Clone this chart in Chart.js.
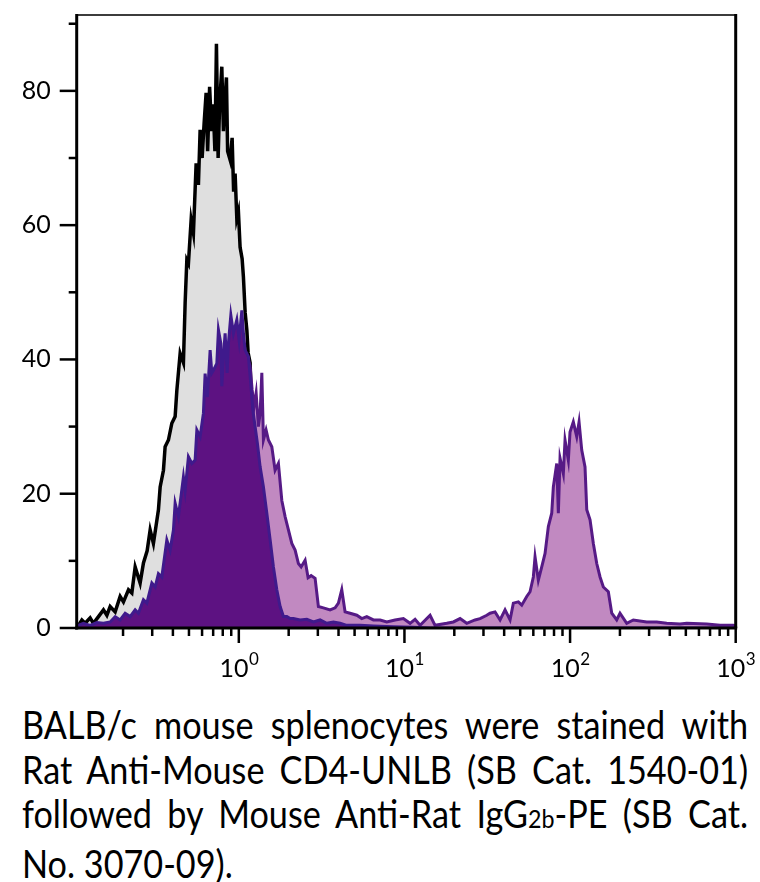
<!DOCTYPE html>
<html>
<head>
<meta charset="utf-8">
<script src="https://cdn.jsdelivr.net/npm/chart.js@4/dist/chart.umd.min.js"></script>
<style>
  html, body { margin: 0; padding: 0; background: #ffffff; }
  #wrap { position: relative; width: 760px; height: 882px; overflow: hidden; background: #fff; }
  #chart { position: absolute; left: 0; top: 0; }
  #caption {
    position: absolute; left: 22px; top: 702px; width: 806.7px;
    transform: scaleX(0.9); transform-origin: 0 0;
    font-family: Lato, 'Liberation Sans', sans-serif;
    font-size: 38px; line-height: 44.5px; color: #000;
  }
  #caption .j { text-align: justify; text-align-last: justify; white-space: nowrap; }
  #caption .sub { font-size: 0.68em; }
</style>
</head>
<body>
<div id="wrap">
  <canvas id="chart" width="760" height="690"></canvas>
  <div id="caption">
    <div class="j">BALB/c mouse splenocytes were stained with</div>
    <div class="j">Rat Anti-Mouse CD4-UNLB (SB Cat. 1540-01)</div>
    <div class="j">followed by Mouse Anti-Rat IgG<span class="sub">2b</span>-PE (SB Cat.</div>
    <div>No. 3070-09).</div>
  </div>
</div>
<script>
const FONT_FAMILY = "Lato, 'Liberation Sans', sans-serif";

// Control histogram (grey fill, black outline): fluorescence intensity and event counts
const controlX = [
  0.1057, 0.1076, 0.1128, 0.1181, 0.1266, 0.1325, 0.1421, 0.1523, 0.1597, 0.1672,
  0.1792, 0.1921, 0.2011, 0.2156, 0.2260, 0.2367, 0.2536, 0.2656, 0.2796, 0.2915,
  0.3051, 0.3271, 0.3350, 0.3507, 0.3590, 0.3759, 0.3941, 0.4126, 0.4225, 0.4423,
  0.4630, 0.4741, 0.4854, 0.4963, 0.5154, 0.5321, 0.5525, 0.5703, 0.5840, 0.6005,
  0.6173, 0.6347, 0.6482, 0.6663, 0.6852, 0.6997, 0.7173, 0.7326, 0.7501, 0.7658,
  0.7895, 0.8073, 0.8266, 0.8418, 0.8559, 0.8862, 0.9112, 0.9302, 0.9499, 0.9725,
  0.9945, 1.018, 1.047, 1.066, 1.092, 1.118, 1.138, 1.170, 1.203, 1.254,
  1.308, 1.382, 1.461, 1.546, 1.656, 1.826, 2.187, 3.095, 5.397, 12.43,
  990
];
const controlY = [
  0.2, 0.4, 1.2, 0.7, 1.5, 0.7, 1.7, 2.7, 1.9, 3.2,
  2.4, 4.7, 3.9, 5.7, 5.2, 9.1, 6.7, 9.7, 11.5, 14.6,
  12.6, 17.6, 21, 23.5, 27, 28, 30.5, 31.5, 35.4, 40.9,
  39.5, 48.4, 54.8, 54.3, 60.8, 58.8, 69.2, 66, 74.2, 70,
  75.2, 79.7, 71, 80.6, 74, 78, 71, 87, 70, 78,
  83.6, 74, 79, 82, 71, 69.7, 73, 65, 67.7, 61,
  62, 56.7, 55, 52.3, 47, 44.4, 41, 39.5, 30, 24,
  18, 12, 7, 4, 2, 0.8, 0.4, 0.2, 0.1, 0,
  0
];

// Stained histogram (light purple fill, purple outline)
const stainedX = [
  0.1052, 0.1266, 0.1523, 0.1792, 0.2059, 0.2367, 0.2656, 0.2985, 0.3429, 0.3848,
  0.4319, 0.4741, 0.5203, 0.5840, 0.6259, 0.6711, 0.7192, 0.7710, 0.8266, 0.8862,
  0.9725, 1.043, 1.092, 1.122, 1.170, 1.203, 1.237, 1.272, 1.313, 1.345,
  1.377, 1.408, 1.461, 1.509, 1.582, 1.656, 1.734, 1.818, 1.903, 1.993,
  2.089, 2.187, 2.290, 2.378, 2.513, 2.620, 2.732, 2.888, 3.023, 3.241,
  3.556, 3.814, 3.993, 4.184, 4.381, 4.697, 5.158, 5.526, 5.924, 6.494,
  7.128, 7.823, 8.778, 9.852, 10.81, 11.59, 12.43, 14.28, 15.30, 18.01,
  19.74, 21.67, 23.78, 26.69, 28.61, 31.41, 32.88, 35.24, 37.78, 40.50,
  43.41, 45.45, 48.73, 51.08, 54.75, 57.32, 60.01, 61.45, 64.33, 67.44,
  70.62, 73.93, 77.50, 79.25, 83.08, 84.96, 86.98, 91.06, 93.24, 97.61,
  99.93, 104.6, 109.7, 113.3, 117.6, 123.1, 126.1, 132.0, 138.2, 144.9,
  151.7, 158.8, 170.2, 178.5, 191.2, 200.2, 219.8, 240.9, 290.2, 333.6,
  383.2, 461.0, 506.0, 668.3, 803.8, 967.2, 1000
];
const stainedY = [
  0.2, 0.3, 0.4, 0.8, 1.2, 1.8, 2.8, 4.5, 6.5, 9.5,
  13.5, 18, 21, 25, 30, 34, 36, 38, 39, 42,
  42, 44, 40, 40.5, 39, 35.5, 33, 35, 30, 32,
  38, 28, 29.5, 28, 27, 23.5, 24.5, 19, 16.6, 14.6,
  12.6, 11.6, 9.6, 9.1, 10.1, 7.5, 7.8, 7.4, 3.2, 3.0,
  2.7, 3.0, 3.7, 5.7, 2.4, 2.2, 1.9, 1.4, 1.7, 1.2,
  1.2, 0.9, 1.2, 1.4, 0.7, 1.3, 0.4, 1.9, 0.4, 0.7,
  0.9, 1.4, 0.7, 1.2, 1.4, 1.9, 2.2, 2.4, 1.2, 2.7,
  1.2, 3.7, 3.9, 3.4, 4.7, 5.4, 7.6, 10.6, 7.1, 9.1,
  11.1, 15.1, 17.1, 21, 24.5, 17.1, 25.3, 23, 28, 25,
  29.2, 30.7, 28.5, 30.7, 26.5, 24, 17.6, 16.1, 12.6, 9.6,
  7.6, 6.1, 5.4, 2.2, 1.2, 2.2, 0.7, 1.2, 0.9, 0.9,
  0.7, 0.6, 0.7, 0.6, 0.4, 0.4, 0.3
];

// Second histogram (dark purple fill, indigo outline)
const darkX = [
  0.1052, 0.1153, 0.1266, 0.1390, 0.1523, 0.1672, 0.1792, 0.1921, 0.2059, 0.2207,
  0.2367, 0.2477, 0.2656, 0.2784, 0.2985, 0.3125, 0.3271, 0.3429, 0.3676, 0.3848,
  0.4029, 0.4126, 0.4319, 0.4630, 0.4741, 0.4963, 0.5203, 0.5447, 0.5579, 0.5840,
  0.6113, 0.6259, 0.6464, 0.6711, 0.6871, 0.7026, 0.7192, 0.7365, 0.7532, 0.7787,
  0.7895, 0.8073, 0.8266, 0.8499, 0.8653, 0.8949, 0.9277, 0.9725, 1.004, 1.043,
  1.066, 1.092, 1.143, 1.181, 1.215, 1.254, 1.295, 1.345, 1.408, 1.476,
  1.546, 1.618, 1.696, 1.776, 1.859, 1.949, 2.040, 2.136, 2.344, 2.573,
  2.821, 3.095, 3.398, 3.724, 4.088, 4.486, 5.397, 6.494, 8.539, 11.27,
  14.28, 990
];
const darkY = [
  0.3, 0.7, 0.4, 0.8, 0.7, 0.9, 1.7, 1.2, 2.2, 1.7,
  2.7, 2.2, 4.2, 3.7, 6.7, 6.1, 8.1, 7.6, 13.1, 11.6,
  14.6, 18.6, 16.6, 22.5, 20.5, 25.5, 24.5, 25, 29.5, 28.5,
  32, 37.9, 34.4, 41.4, 38, 38.4, 38.9, 39.4, 44.4, 42.4,
  36, 40.4, 43.9, 38, 42.4, 46.6, 43.9, 45.9, 42.9, 47.3,
  43.9, 41.4, 40.4, 36.4, 32.5, 30, 27.5, 24, 21, 17.1,
  13.1, 9.1, 5.7, 3.2, 1.7, 1.7, 1.4, 1.4, 1.2, 1.3,
  0.9, 1.2, 0.7, 0.9, 0.7, 0.4, 0.4, 0.3, 0.2, 0.1,
  0, 0
];

// Axis ticks and labels
const yTickValues = [0, 10, 20, 30, 40, 50, 60, 70, 80, 90];
const yLabelValues = [0, 20, 40, 60, 80];
const xDecades = [1, 10, 100, 1000];
const xDecadeExponents = ['0', '1', '2', '3'];
const xMinorMultipliers = [2, 3, 4, 5, 6, 7, 8, 9];
const xRange = [0.105, 1000];
const yRange = [0, 91.3];

function toPoints(xs, ys) {
  if (xs.length !== ys.length) console.error('length mismatch', xs.length, ys.length);
  return xs.map((x, i) => ({ x: x, y: ys[i] }));
}

const xTickList = [];
[0.1, 1, 10, 100].forEach(d => {
  xMinorMultipliers.forEach(m => { const v = +(m * d).toPrecision(3); if (v >= xRange[0] && v <= xRange[1]) xTickList.push(v); });
});
xDecades.forEach(v => xTickList.push(v));

const framePlugin = {
  id: 'framePlugin',
  afterDatasetsDraw(chart) {
    const { ctx, chartArea: a, scales } = chart;
    const xs = scales.x, ys = scales.y;
    ctx.save();
    ctx.lineCap = 'butt';
    // top border (thin)
    ctx.strokeStyle = '#3c3c3c';
    ctx.lineWidth = 2;
    ctx.beginPath(); ctx.moveTo(a.left, a.top); ctx.lineTo(a.right, a.top); ctx.stroke();
    ctx.strokeStyle = '#000';
    ctx.lineWidth = 3;
    // right border
    ctx.beginPath(); ctx.moveTo(a.right, a.top - 1); ctx.lineTo(a.right, a.bottom); ctx.stroke();
    // left axis
    ctx.beginPath(); ctx.moveTo(a.left, a.top - 1); ctx.lineTo(a.left, a.bottom + 1.5); ctx.stroke();
    // bottom axis
    ctx.beginPath(); ctx.moveTo(a.left - 1.5, a.bottom); ctx.lineTo(a.right + 1.5, a.bottom); ctx.stroke();
    // y ticks
    ctx.lineWidth = 2.5;
    yTickValues.forEach(v => {
      const py = ys.getPixelForValue(v);
      const len = yLabelValues.includes(v) ? 17 : 8;
      ctx.beginPath(); ctx.moveTo(a.left - len, py); ctx.lineTo(a.left, py); ctx.stroke();
    });
    // x ticks
    xs.ticks.forEach(t => {
      const px = xs.getPixelForValue(t.value);
      const len = xDecades.includes(t.value) ? 15 : 8;
      ctx.beginPath(); ctx.moveTo(px, a.bottom); ctx.lineTo(px, a.bottom + len); ctx.stroke();
    });
    // x labels: 10 with superscript exponent
    ctx.fillStyle = '#000';
    ctx.textBaseline = 'alphabetic';
    ctx.textAlign = 'left';
    xDecades.forEach((v, i) => {
      const px = xs.getPixelForValue(v);
      ctx.font = '25px ' + FONT_FAMILY;
      const w1 = ctx.measureText('10').width;
      ctx.font = '17px ' + FONT_FAMILY;
      const w2 = ctx.measureText(xDecadeExponents[i]).width;
      const start = px - (w1 + w2) / 2;
      ctx.font = '25px ' + FONT_FAMILY;
      ctx.fillText('10', start, 677);
      ctx.font = '17px ' + FONT_FAMILY;
      ctx.fillText(xDecadeExponents[i], start + w1 + 0.5, 665);
    });
    ctx.restore();
  }
};

const chart = new Chart(document.getElementById('chart'), {
  type: 'line',
  data: {
    datasets: [
      { label: 'dark', data: toPoints(darkX, darkY), borderColor: '#3f1a8c', backgroundColor: '#5d1282',
        borderWidth: 3, fill: 'origin', pointRadius: 0, tension: 0 },
      { label: 'stained', data: toPoints(stainedX, stainedY), borderColor: '#561a86', backgroundColor: '#c189c1',
        borderWidth: 3, fill: 'origin', pointRadius: 0, tension: 0 },
      { label: 'control', data: toPoints(controlX, controlY), borderColor: '#000000', backgroundColor: '#dfdfdf',
        borderWidth: 3.5, fill: 'origin', pointRadius: 0, tension: 0 }
    ]
  },
  options: {
    responsive: false,
    animation: false,
    devicePixelRatio: 1,
    layout: { padding: { top: 15, right: 24.3, left: 0, bottom: 0 } },
    plugins: { legend: { display: false }, tooltip: { enabled: false } },
    scales: {
      x: {
        type: 'logarithmic', min: xRange[0], max: xRange[1],
        grid: { display: false }, border: { display: false },
        ticks: { display: false },
        afterBuildTicks(s) { s.ticks = xTickList.map(v => ({ value: v })); },
        afterFit(s) { s.height = 62; s.paddingLeft = 0; s.paddingRight = 0; }
      },
      y: {
        type: 'linear', min: yRange[0], max: yRange[1],
        grid: { display: false }, border: { display: false },
        ticks: {
          padding: 18, color: '#000', font: { family: FONT_FAMILY, size: 25 },
          callback: (v) => yLabelValues.includes(v) ? String(v) : ''
        },
        afterBuildTicks(s) { s.ticks = yTickValues.map(v => ({ value: v })); },
        afterFit(s) { s.width = 76.7; s.paddingTop = 0; s.paddingBottom = 0; }
      }
    }
  },
  plugins: [framePlugin]
});
</script>
</body>
</html>
